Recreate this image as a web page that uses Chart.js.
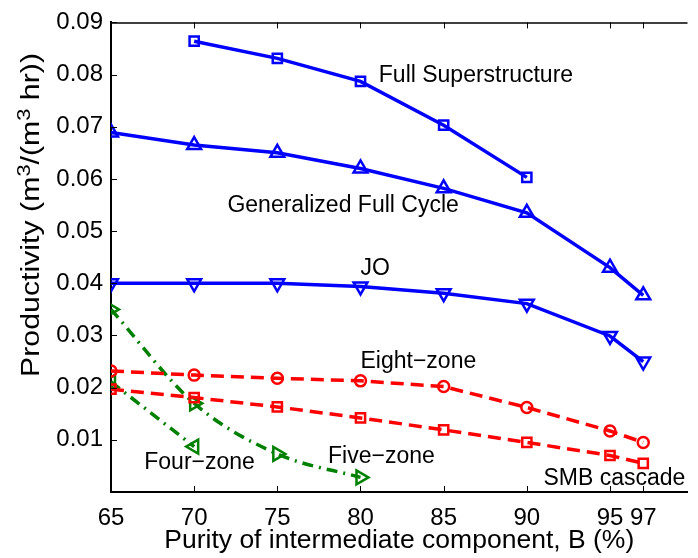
<!DOCTYPE html>
<html>
<head>
<meta charset="utf-8">
<script src="https://cdn.jsdelivr.net/npm/chart.js@4.4.1/dist/chart.umd.min.js"></script>
<style>
  html, body { margin: 0; padding: 0; background: #fff; overflow: hidden; }
  #wrap { width: 698px; height: 558px; }
</style>
</head>
<body>
<div id="wrap"><canvas id="prodChart" width="698" height="558"></canvas></div>
<script>
// purity of B (%) and productivity values per configuration
const purity = [65, 70, 75, 80, 85, 90, 95, 97];
const xTicks = [65, 70, 75, 80, 85, 90, 95, 97];

const fullSuper = [null, 0.0864, 0.0831, 0.0787, 0.0703, 0.0603, null, null];
const genFullCycle = [0.0689, 0.0665, 0.0650, 0.0620, 0.0582, 0.0535, 0.0430, 0.0377];
const jo = [0.0400, 0.0400, 0.0400, 0.0394, 0.0381, 0.0361, 0.0299, 0.0250];
const eightZone = [0.0232, 0.0224, 0.0218, 0.0213, 0.0202, 0.0162, 0.0117, 0.0095];
const smbCascade = [0.0197, 0.0181, 0.0163, 0.0142, 0.0119, 0.0095, 0.0070, 0.0055];
const fiveZone = [0.0350, 0.0170, 0.0073, 0.0028, null, null, null, null];
const fourZone = [0.0211, 0.0087, null, null, null, null, null, null];

const BLUE = '#0000ff';
const RED = '#ff0000';
const GREEN = '#008000';
const FONT = "'Liberation Sans', Arial, sans-serif";
const DASH = [13, 7];
const DASH_DOT = [11, 6, 2, 6];

function pts(arr) {
    return purity.map((x, i) => ({ x: x, y: arr[i] })).filter(p => p.y !== null);
}

function series(label, arr, color, style, extra) {
    return Object.assign({
        label: label,
        data: pts(arr),
        borderColor: color,
        backgroundColor: 'transparent',
        borderWidth: 3.5,
        pointStyle: style,
        pointRadius: 6,
        pointBorderWidth: 2.5,
        pointBorderColor: color,
        pointBackgroundColor: 'transparent',
        tension: 0
    }, extra || {});
}

// draws text stretched horizontally so it spans the given width
function stretchedText(ctx, pieces, cx, baseY, width) {
    let total = 0;
    pieces.forEach(p => { ctx.font = p.font; total += ctx.measureText(p.text).width; });
    const sx = width / total;
    ctx.save();
    ctx.translate(cx - width / 2, baseY);
    ctx.scale(sx, 1);
    let x = 0;
    pieces.forEach(p => {
        ctx.font = p.font;
        ctx.fillText(p.text, x, p.dy || 0);
        x += ctx.measureText(p.text).width;
    });
    ctx.restore();
}

// inner tick marks, top border, curve labels and axis titles
const decorations = {
    id: 'decorations',
    afterDraw(chart, args, opts) {
        const ctx = chart.ctx;
        const a = chart.chartArea;
        const xs = chart.scales.x;
        const ys = chart.scales.y;
        ctx.save();
        ctx.strokeStyle = '#000';
        ctx.lineWidth = 1.5;
        ctx.beginPath();
        ctx.moveTo(a.left, a.top + 0.5);
        ctx.lineTo(a.right, a.top + 0.5);
        ctx.stroke();
        ctx.lineWidth = 1;
        ctx.beginPath();
        xTicks.forEach(v => {
            const px = Math.round(xs.getPixelForValue(v)) + 0.5;
            ctx.moveTo(px, a.bottom);
            ctx.lineTo(px, a.bottom - 6);
            ctx.moveTo(px, a.top);
            ctx.lineTo(px, a.top + 6);
        });
        ys.ticks.forEach(t => {
            const py = Math.round(ys.getPixelForValue(t.value)) + 0.5;
            ctx.moveTo(a.left, py);
            ctx.lineTo(a.left + 6, py);
        });
        ctx.stroke();

        ctx.fillStyle = '#000';
        ctx.font = opts.labelFont;
        ctx.textAlign = 'left';
        ctx.textBaseline = 'middle';
        opts.labels.forEach(l => {
            ctx.fillText(l.text, xs.getPixelForValue(l.x), ys.getPixelForValue(l.y));
        });

        ctx.textBaseline = 'alphabetic';
        const big = opts.titleFont;
        const small = opts.supFont;

        // x title
        stretchedText(ctx, [{ text: opts.xTitle, font: big }],
            (a.left + a.right) / 2, opts.xTitleBase, opts.xTitleWidth);

        // y title with superscripts, rotated
        ctx.save();
        ctx.translate(opts.yTitleBase, opts.yTitleCenter);
        ctx.rotate(-Math.PI / 2);
        stretchedText(ctx, [
            { text: 'Productivity (m', font: big },
            { text: '3', font: small, dy: -9 },
            { text: '/(m', font: big },
            { text: '3', font: small, dy: -9 },
            { text: ' hr))', font: big }
        ], 0, 0, opts.yTitleWidth);
        ctx.restore();
        ctx.restore();
    }
};

const ctxProd = document.getElementById('prodChart').getContext('2d');

new Chart(ctxProd, {
    type: 'line',
    data: {
        datasets: [
            series('Full Superstructure', fullSuper, BLUE, 'rect', { pointRadius: 6.5 }),
            series('Generalized Full Cycle', genFullCycle, BLUE, 'triangle', { pointRadius: 8 }),
            series('JO', jo, BLUE, 'triangle', { pointRadius: 8, pointRotation: 180 }),
            series('Eight-zone', eightZone, RED, 'circle', { pointRadius: 5.5, borderDash: DASH }),
            series('SMB cascade', smbCascade, RED, 'rect', { pointRadius: 6.5, borderDash: DASH }),
            series('Five-zone', fiveZone, GREEN, 'triangle', {
                pointRadius: 8, pointRotation: 90, borderDash: DASH_DOT, cubicInterpolationMode: 'monotone'
            }),
            series('Four-zone', fourZone, GREEN, 'triangle', {
                pointRadius: 8, pointRotation: -90, borderDash: DASH_DOT
            })
        ]
    },
    options: {
        responsive: false,
        animation: false,
        layout: { padding: { top: 15, right: 0, left: 0, bottom: 0 } },
        plugins: {
            legend: { display: false },
            tooltip: { enabled: false },
            decorations: {
                labelFont: "23px " + FONT,
                titleFont: "25px " + FONT,
                supFont: "18px " + FONT,
                xTitle: 'Purity of intermediate component, B (%)',
                xTitleBase: 548,
                xTitleWidth: 470,
                yTitleBase: 39,
                yTitleCenter: 215,
                yTitleWidth: 324,
                labels: [
                    { text: 'Full Superstructure', x: 81.1, y: 0.0798 },
                    { text: 'Generalized Full Cycle', x: 72.0, y: 0.0549 },
                    { text: 'JO', x: 80.0, y: 0.0428 },
                    { text: 'Eight\u2212zone', x: 80.0, y: 0.0249 },
                    { text: 'Four\u2212zone', x: 67.0, y: 0.0057 },
                    { text: 'Five\u2212zone', x: 78.05, y: 0.0068 },
                    { text: 'SMB cascade', x: 91.0, y: 0.0026 }
                ]
            }
        },
        scales: {
            x: {
                type: 'linear',
                min: 65,
                max: 99.66,
                afterBuildTicks: axis => { axis.ticks = xTicks.map(v => ({ value: v })); },
                afterFit: axis => { axis.height = 66; },
                grid: { display: false, drawTicks: false },
                border: { display: true, color: '#000', width: 2 },
                ticks: {
                    color: '#000',
                    font: { family: FONT, size: 24 },
                    padding: 12,
                    maxRotation: 0,
                    autoSkip: false
                }
            },
            y: {
                min: 0,
                max: 0.09,
                afterFit: axis => { axis.width = 111; },
                grid: { display: false, drawTicks: false },
                border: { display: true, color: '#000', width: 2 },
                ticks: {
                    stepSize: 0.01,
                    color: '#000',
                    font: { family: FONT, size: 24 },
                    padding: 8,
                    callback: v => (v < 0.005 ? '' : v.toFixed(2))
                }
            }
        }
    },
    plugins: [decorations]
});
</script>
</body>
</html>
